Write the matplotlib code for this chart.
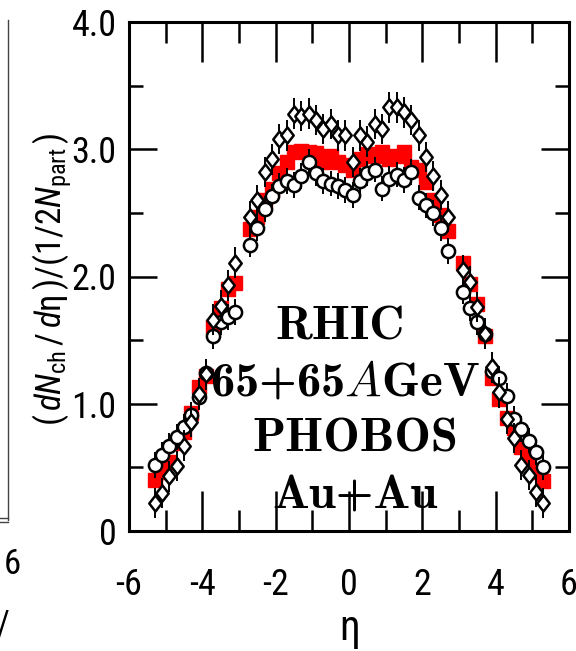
import matplotlib
matplotlib.use("Agg")
import matplotlib.pyplot as plt
from matplotlib.path import Path
from matplotlib.lines import Line2D
from matplotlib import font_manager as fm

names = {f.name for f in fm.fontManager.ttflist}
NARROW = 'Liberation Sans'
for cand in ['Liberation Sans Narrow', 'Arial Narrow', 'Roboto Condensed',
             'DejaVu Sans Condensed', 'Noto Sans Condensed', 'Open Sans Condensed']:
    if cand in names:
        NARROW = cand
        break
BOLDSERIF = 'cmb10' if 'cmb10' in names else 'DejaVu Serif'

plt.rcParams['font.family'] = [NARROW, 'DejaVu Sans']
plt.rcParams['mathtext.fontset'] = 'custom'
plt.rcParams['mathtext.rm'] = NARROW
plt.rcParams['mathtext.it'] = NARROW + ':italic'
plt.rcParams['mathtext.bf'] = NARROW + ':bold'

# ---- data (pseudorapidity bins) ----
eta = [-5.3, -5.1, -4.9, -4.7, -4.5, -4.3, -4.1, -3.9, -3.7, -3.5, -3.3, -3.1,
       -2.7, -2.5, -2.3, -2.1, -1.9, -1.7, -1.5, -1.3, -1.1, -0.9, -0.7, -0.5,
       -0.3, -0.1, 0.1, 0.3, 0.5, 0.7, 0.9, 1.1, 1.3, 1.5, 1.7, 1.9, 2.1, 2.3,
       2.5, 2.7, 3.1, 3.3, 3.5, 3.7, 3.9, 4.1, 4.3, 4.5, 4.7, 4.9, 5.1, 5.3]

diamonds = [0.22, 0.30, 0.43, 0.51, 0.67, 0.86, 1.08, 1.23, 1.66, 1.77, 1.93, 2.11,
            2.47, 2.60, 2.82, 2.92, 3.08, 3.11, 3.28, 3.26, 3.28, 3.23, 3.16, 3.20,
            3.11, 3.11, 2.90, 3.11, 3.06, 3.20, 3.16, 3.33, 3.33, 3.29, 3.23, 3.11,
            2.94, 2.79, 2.64, 2.47, 2.05, 1.96, 1.76, 1.55, 1.29, 1.09, 0.88, 0.73,
            0.52, 0.44, 0.31, 0.22]
diamonds_err = 0.12

circles = [0.52, 0.60, 0.67, 0.74, 0.82, 0.91, 1.05, 1.24, 1.53, 1.64, 1.68, 1.72,
           2.25, 2.38, 2.53, 2.63, 2.71, 2.75, 2.72, 2.79, 2.90, 2.81, 2.75, 2.73,
           2.71, 2.68, 2.64, 2.75, 2.81, 2.84, 2.69, 2.77, 2.80, 2.76, 2.82, 2.62,
           2.56, 2.50, 2.38, 2.20, 1.88, 1.75, 1.64, 1.55, 1.26, 1.20, 1.06, 0.88,
           0.80, 0.71, 0.62, 0.50]
circles_err = 0.10

squares = [0.40, 0.46, 0.54, 0.69, 0.78, 0.93, 1.13, 1.22, 1.60, 1.75, 1.90, 1.95,
           2.37, 2.47, 2.60, 2.69, 2.81, 2.90, 2.98, 2.99, 2.98, 2.97, 2.90, 2.95,
           2.90, 2.88, 2.84, 2.92, 2.96, 2.95, 2.98, 2.92, 2.95, 2.98, 2.86, 2.84,
           2.74, 2.60, 2.48, 2.36, 2.11, 1.94, 1.78, 1.53, 1.20, 1.04, 0.89, 0.81,
           0.66, 0.58, 0.46, 0.39]
squares_err = 0.05

xticks = [-6, -4, -2, 0, 2, 4, 6]
yticks = [0, 1, 2, 3, 4]
yticklabels = ['0', '1.0', '2.0', '3.0', '4.0']
labels = ['RHIC', r'65+65$\mathit{A}$GeV', 'PHOBOS', 'Au+Au']

# ---- figure ----
W, H = 576, 651
fig = plt.figure(figsize=(W / 100, H / 100), dpi=100)
ax = fig.add_axes([129 / W, 1 - 531 / H, 440 / W, 509 / H])

tall_diamond = Path([(0, 1), (0.78, 0), (0, -1), (-0.78, 0), (0, 1)],
                    [Path.MOVETO, Path.LINETO, Path.LINETO, Path.LINETO, Path.CLOSEPOLY])

ax.errorbar(eta, squares, yerr=squares_err, fmt='s', color='#ff0000', ms=9.5,
            mec='#ff0000', mfc='#ff0000', elinewidth=9, capsize=0, zorder=2)
ax.errorbar(eta, circles, yerr=circles_err, fmt='o', color='black', ms=9.5,
            mfc='white', mec='black', mew=1.8, elinewidth=1.4, capsize=0, zorder=3)
ax.errorbar(eta, diamonds, yerr=diamonds_err, fmt='none', ecolor='black',
            elinewidth=1.4, capsize=0, zorder=4)
ax.plot(eta, diamonds, linestyle='none', marker=tall_diamond, ms=11.5,
        mfc='white', mec='black', mew=1.8, zorder=5)

ax.set_xlim(-6, 6)
ax.set_ylim(0, 4)
ax.set_xticks(xticks)
ax.set_xticks([-5, -3, -1, 1, 3, 5], minor=True)
ax.set_yticks(yticks)
ax.set_yticklabels(yticklabels)
ax.set_yticks([0.5, 1.5, 2.5, 3.5], minor=True)
ax.set_xticklabels([str(v) for v in xticks])

for s in ax.spines.values():
    s.set_linewidth(2.2)
ax.tick_params(axis='both', which='both', direction='in', top=True, right=True,
               width=1.8, labelsize=26)
ax.tick_params(axis='x', which='major', length=29, pad=26)
ax.tick_params(axis='x', which='minor', length=15)
ax.tick_params(axis='y', which='major', length=20, pad=9)
ax.tick_params(axis='y', which='minor', length=10)

ax.set_xlabel(r'$\mathrm{\eta}$', fontsize=30)
ax.xaxis.set_label_coords(0.5, -0.155)
ax.set_ylabel(r'$(\,\mathit{dN}_{\mathrm{ch}}\,/\,\mathit{d}\mathrm{\eta}\,)/(1/2\mathit{N}_{\mathrm{part}}\,)$',
              fontsize=25)
ax.yaxis.set_label_coords(-0.125, 0.495)

label_y = [328, 383, 440, 497]
label_x = [340, 345, 355, 355]
for t, px, py in zip(labels, label_x, label_y):
    ax.text((px - 129) / 440, (531 - py) / 509, t, transform=ax.transAxes,
            ha='center', va='center', fontsize=35, fontfamily=BOLDSERIF,
            math_fontfamily='cm', zorder=6)

# fragments of the neighbouring panel on the left
fig.add_artist(Line2D([8 / W, 8 / W], [1 - 520 / H, 1 - 20 / H], color='#444444', lw=1.0))
fig.add_artist(Line2D([0, 8 / W], [1 - 518 / H, 1 - 518 / H], color='#444444', lw=1.0))
fig.add_artist(Line2D([0, 8 / W], [1 - 522 / H, 1 - 522 / H], color='#444444', lw=1.0))
fig.text(12 / W, 1 - 565 / H, '6', fontsize=25, ha='center', va='center')
fig.text(3 / W, 1 - 625 / H, '/', fontsize=25, ha='center', va='center')

fig.savefig('out.png', dpi=100)
